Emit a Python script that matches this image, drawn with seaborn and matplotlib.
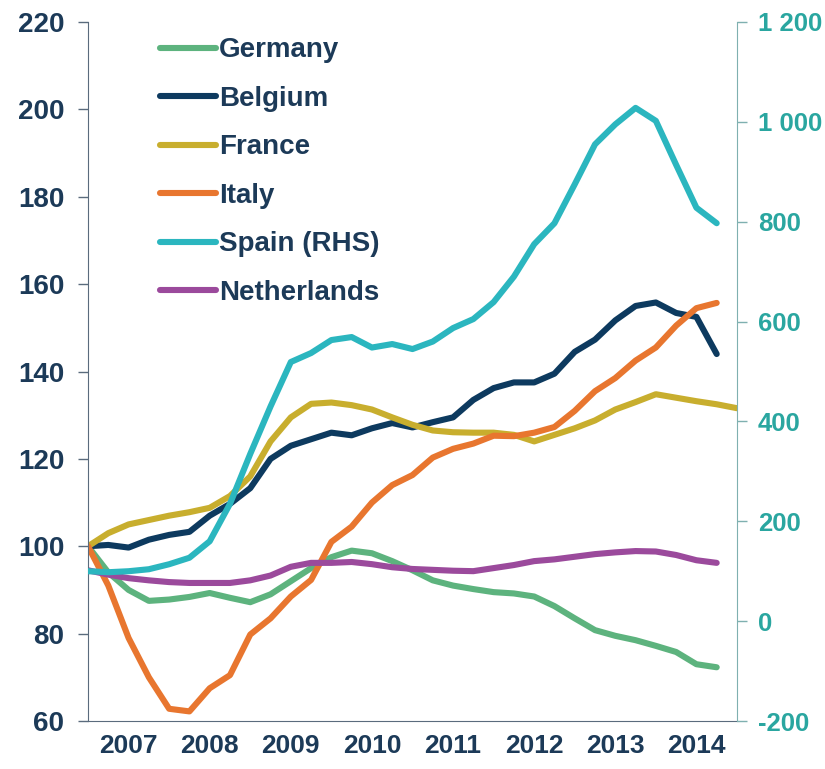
import numpy as np
import pandas as pd
import matplotlib.pyplot as plt
import seaborn as sns
from matplotlib.ticker import FuncFormatter

# quarterly points, start 2007
years = np.arange(2007.0, 2015.01, 0.25)

germany = [100, 94, 90, 87.5, 87.8, 88.4, 89.3, 88.2, 87.2, 89, 92, 95, 97.5, 99, 98.4, 96.6,
           94.5, 92.2, 91, 90.2, 89.5, 89.2, 88.5, 86.3, 83.5, 80.8, 79.5, 78.5, 77.2, 75.8, 73, 72.3]
belgium = [100, 100.3, 99.7, 101.5, 102.6, 103.3, 107, 109.7, 113.3, 120, 123, 124.5, 126, 125.4, 127, 128.2,
           127.2, 128.4, 129.5, 133.5, 136.2, 137.5, 137.5, 139.5, 144.5, 147.3, 151.7, 155, 155.8, 153.4, 152.5, 144]
france = [100, 103, 105, 106, 107, 107.8, 108.8, 111.5, 116, 124, 129.5, 132.6, 132.9, 132.3, 131.3, 129.5,
          127.8, 126.5, 126.1, 126, 126, 125.5, 124, 125.5, 127, 128.8, 131.3, 133, 134.8, 134, 133.2, 132.5, 131.6]
italy = [100, 91, 79, 70, 62.8, 62.2, 67.5, 70.5, 79.8, 83.5, 88.5, 92.3, 101, 104.5, 110, 114,
         116.3, 120.3, 122.3, 123.5, 125.3, 125.2, 126, 127.3, 131, 135.5, 138.5, 142.5, 145.5, 150.5, 154.5, 155.7]
spain = [100, 98, 100, 104, 114, 127, 160, 235, 335, 430, 519, 537, 563, 569, 548, 555,
         545, 560, 587, 605, 639, 690, 755, 797, 875, 955, 995, 1028, 1002, 914, 828, 797]
netherlands = [94.5, 93.5, 92.7, 92.2, 91.8, 91.6, 91.6, 91.6, 92.2, 93.3, 95.3, 96.2, 96.2, 96.4, 95.9, 95.2,
               94.8, 94.6, 94.4, 94.3, 95, 95.7, 96.6, 97, 97.6, 98.2, 98.6, 98.9, 98.8, 98, 96.8, 96.2]

left_series = {
    'Germany': (germany, '#5db37e'),
    'Belgium': (belgium, '#0d3a5f'),
    'France': (france, '#c8ae2e'),
    'Italy': (italy, '#e8762f'),
}
spain_color = '#2bb6bf'
neth_color = '#9b4a9c'
text_color = '#1c3a58'
teal_text = '#2aa6a0'

sns.set_style('white')
plt.rcParams['font.family'] = ['Liberation Sans', 'DejaVu Sans']

fig = plt.figure(figsize=(8.25, 7.69), dpi=100)
ax = fig.add_axes([0.1067, 0.0624, 0.7866, 0.909])
ax2 = ax.twinx()

lw = 4.4
handles = {}
for name, (vals, col) in left_series.items():
    sns.lineplot(x=years[:len(vals)], y=vals, ax=ax, color=col, lw=lw, label=name,
                 solid_capstyle='round', legend=False)
    handles[name] = ax.lines[-1]
sns.lineplot(x=years[:len(netherlands)], y=netherlands, ax=ax, color=neth_color, lw=lw,
             label='Netherlands', solid_capstyle='round', legend=False)
handles['Netherlands'] = ax.lines[-1]
sns.lineplot(x=years[:len(spain)], y=spain, ax=ax2, color=spain_color, lw=lw,
             label='Spain (RHS)', solid_capstyle='round', legend=False)
handles['Spain (RHS)'] = ax2.lines[-1]

ax.set_xlim(2007, 2015)
ax.set_ylim(60, 220)
ax2.set_ylim(-200, 1200)
ax.set_yticks(range(60, 221, 20))
ax2.set_yticks(range(-200, 1201, 200))
ax2.yaxis.set_major_formatter(FuncFormatter(lambda v, p: f'{int(v):,}'.replace(',', ' ')))

ax.set_xticks(range(2007, 2016))
ax.set_xticklabels([])
ax.set_xticks(np.arange(2007.5, 2015, 1), minor=True)
ax.set_xticklabels([str(y) for y in range(2007, 2015)], minor=True)
ax.tick_params(axis='x', which='minor', length=0, pad=9, labelsize=19, labelcolor=text_color)
ax.tick_params(axis='x', which='major', length=8, width=1, color='#5a6b7d', direction='out')
ax.tick_params(axis='y', length=7, width=1, color='#5a6b7d', direction='out', pad=10,
               labelsize=20, labelcolor=text_color)
ax2.tick_params(axis='y', length=7, width=1, color='#7fb0b0', direction='out', pad=8,
                labelsize=18.5, labelcolor=teal_text)
for lab in ax.get_xticklabels(minor=True) + ax.get_yticklabels():
    lab.set_fontweight('bold')
for lab in ax2.get_yticklabels():
    lab.set_fontweight('bold')

for a in (ax, ax2):
    a.spines['top'].set_visible(False)
    a.set_xlabel('')
    a.set_ylabel('')
ax.spines['left'].set_color('#5a6b7d')
ax.spines['bottom'].set_color('#5a6b7d')
ax2.spines['right'].set_color('#7fb0b0')
ax2.spines['left'].set_visible(False)
ax2.spines['bottom'].set_visible(False)
ax.spines['right'].set_visible(False)

order = ['Germany', 'Belgium', 'France', 'Italy', 'Spain (RHS)', 'Netherlands']
leg = ax2.legend([handles[n] for n in order], order, loc='upper left', bbox_to_anchor=(0.111, 0.978),
                 frameon=False, borderpad=0, borderaxespad=0, handlelength=2.0, handletextpad=0.12,
                 labelspacing=0.81, prop={'size': 20, 'weight': 'bold'})
for t in leg.get_texts():
    t.set_color(text_color)

fig.savefig('out.png', dpi=100)
